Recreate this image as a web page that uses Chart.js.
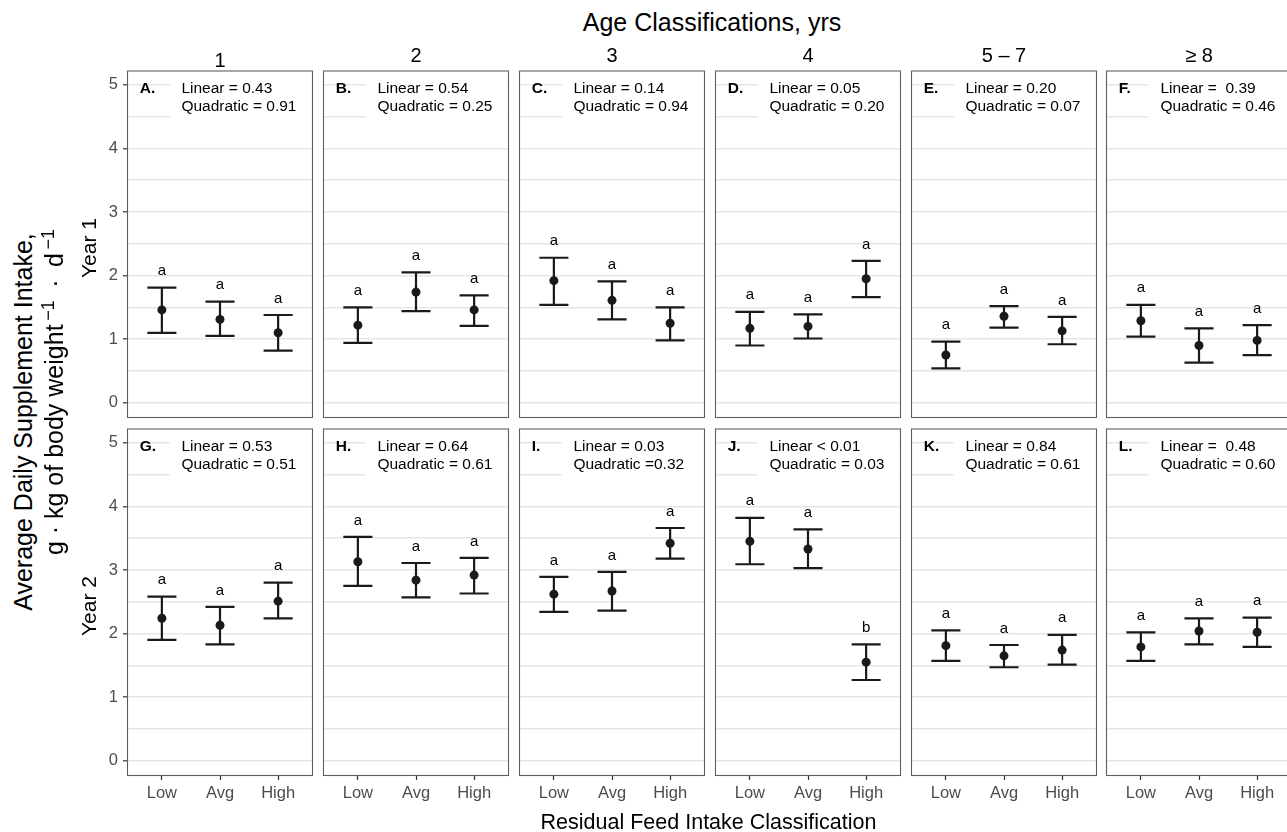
<!DOCTYPE html>
<html>
<head>
<meta charset="utf-8">
<script src="https://cdn.jsdelivr.net/npm/chart.js@4.4.1/dist/chart.umd.min.js"></script>
<style>
body { margin:0; width:1287px; height:832px; overflow:hidden; background:#fff; position:relative; font-family:'Liberation Sans', Arial, sans-serif; }
canvas { position:absolute; }
.txt { position:absolute; white-space:nowrap; line-height:1; color:#000; transform:translate(-50%,-50%); }
.rot { transform:translate(-50%,-50%) rotate(-90deg); }
sup { font-size:72%; vertical-align:0.5em; line-height:0; }
</style>
</head>
<body>
<script>
/* Facet labels */
const ageLabels = ['1', '2', '3', '4', '5 \u2013 7', '\u2265 8'];
const rfiLabels = ['Low', 'Avg', 'High'];
const yearLabels = ['Year 1', 'Year 2'];
const yGridValues = [0, 0.5, 1, 1.5, 2, 2.5, 3, 3.5, 4, 4.5, 5];

/* Panel annotations */
const panelTags = [['A.', 'B.', 'C.', 'D.', 'E.', 'F.'], ['G.', 'H.', 'I.', 'J.', 'K.', 'L.']];
const linearText = [
	['Linear = 0.43', 'Linear = 0.54', 'Linear = 0.14', 'Linear = 0.05', 'Linear = 0.20', 'Linear =  0.39'],
	['Linear = 0.53', 'Linear = 0.64', 'Linear = 0.03', 'Linear < 0.01', 'Linear = 0.84', 'Linear =  0.48']
];
const quadText = [
	['Quadratic = 0.91', 'Quadratic = 0.25', 'Quadratic = 0.94', 'Quadratic = 0.20', 'Quadratic = 0.07', 'Quadratic = 0.46'],
	['Quadratic = 0.51', 'Quadratic = 0.61', 'Quadratic =0.32', 'Quadratic = 0.03', 'Quadratic = 0.61', 'Quadratic = 0.60']
];

/* Year 1 means and error bar limits (Low, Avg, High per age class) */
const year1Mean = [[1.46, 1.31, 1.10], [1.22, 1.74, 1.46], [1.92, 1.61, 1.25], [1.17, 1.20, 1.95], [0.75, 1.36, 1.13], [1.29, 0.90, 0.98]];
const year1Upper = [[1.81, 1.59, 1.38], [1.50, 2.05, 1.69], [2.28, 1.91, 1.50], [1.43, 1.39, 2.23], [0.96, 1.52, 1.35], [1.54, 1.17, 1.22]];
const year1Lower = [[1.10, 1.05, 0.82], [0.94, 1.44, 1.21], [1.54, 1.31, 0.98], [0.90, 1.01, 1.66], [0.54, 1.18, 0.92], [1.04, 0.63, 0.75]];
const year1Letters = [['a', 'a', 'a'], ['a', 'a', 'a'], ['a', 'a', 'a'], ['a', 'a', 'a'], ['a', 'a', 'a'], ['a', 'a', 'a']];

/* Year 2 */
const year2Mean = [[2.24, 2.13, 2.51], [3.13, 2.84, 2.92], [2.62, 2.67, 3.42], [3.45, 3.33, 1.55], [1.81, 1.65, 1.74], [1.79, 2.04, 2.02]];
const year2Upper = [[2.58, 2.42, 2.80], [3.52, 3.11, 3.19], [2.89, 2.97, 3.66], [3.82, 3.64, 1.83], [2.05, 1.82, 1.98], [2.02, 2.24, 2.25]];
const year2Lower = [[1.90, 1.83, 2.24], [2.75, 2.57, 2.63], [2.34, 2.36, 3.18], [3.09, 3.03, 1.27], [1.57, 1.47, 1.51], [1.57, 1.83, 1.79]];
const year2Letters = [['a', 'a', 'a'], ['a', 'a', 'a'], ['a', 'a', 'a'], ['a', 'a', 'b'], ['a', 'a', 'a'], ['a', 'a', 'a']];

/* Layout */
const panelLeft0 = 127.3, colStep = 195.8, panelW = 186;
const rowTop0 = 70, rowStep = 358.3, panelH = 348;
const axisW = 45, axisH = 40, padTop = 4, padRight = 6;
const fontFam = "'Liberation Sans', Arial, sans-serif";

Chart.defaults.font.family = fontFam;

const panelDecor = {
	id: 'panelDecor',
	beforeDatasetsDraw(chart, args, opts) {
		const ctx = chart.ctx;
		const a = chart.chartArea;
		const x = chart.scales.x, y = chart.scales.y;
		ctx.save();
		// white box behind the p-value text
		ctx.fillStyle = '#fff';
		ctx.fillRect(a.left + 42.7, a.top, a.right - a.left - 44.5, 51);
		// panel border
		ctx.strokeStyle = '#5e5e5e';
		ctx.lineWidth = 1.1;
		ctx.strokeRect(a.left + 0.5, a.top + 0.5, a.right - a.left - 1, a.bottom - a.top - 1);
		// error bars
		ctx.strokeStyle = '#1a1a1a';
		ctx.lineWidth = 2.2;
		for (var i = 0; i < opts.upper.length; i++) {
			var cx = x.getPixelForValue(i + 1);
			var x0 = x.getPixelForValue(i + 1 - 0.25);
			var x1 = x.getPixelForValue(i + 1 + 0.25);
			var yu = y.getPixelForValue(opts.upper[i]);
			var yl = y.getPixelForValue(opts.lower[i]);
			ctx.beginPath();
			ctx.moveTo(cx, yu); ctx.lineTo(cx, yl);
			ctx.moveTo(x0, yu); ctx.lineTo(x1, yu);
			ctx.moveTo(x0, yl); ctx.lineTo(x1, yl);
			ctx.stroke();
		}
		ctx.restore();
	},
	afterDatasetsDraw(chart, args, opts) {
		const ctx = chart.ctx;
		const a = chart.chartArea;
		const x = chart.scales.x, y = chart.scales.y;
		ctx.save();
		ctx.fillStyle = '#000';
		ctx.textBaseline = 'middle';
		ctx.textAlign = 'left';
		ctx.font = 'bold 15.5px ' + fontFam;
		ctx.fillText(opts.tag, a.left + 12.7, a.top + 18);
		ctx.font = '15.5px ' + fontFam;
		ctx.fillText(opts.lin, a.left + 54.4, a.top + 18);
		ctx.fillText(opts.quad, a.left + 54.4, a.top + 36.7);
		ctx.font = '15px ' + fontFam;
		ctx.textAlign = 'center';
		for (var i = 0; i < opts.letters.length; i++) {
			ctx.fillText(opts.letters[i], x.getPixelForValue(i + 1), y.getPixelForValue(opts.upper[i]) - 16.5);
		}
		ctx.restore();
	}
};
Chart.register(panelDecor);

function addText(html, cx, cy, size, rotate) {
	var d = document.createElement('div');
	d.className = rotate ? 'txt rot' : 'txt';
	d.innerHTML = html;
	d.style.left = cx + 'px';
	d.style.top = cy + 'px';
	d.style.fontSize = size + 'px';
	document.body.appendChild(d);
}

function noPadding(s) {
	s.paddingTop = 0;
	s.paddingBottom = 0;
	s.paddingLeft = 0;
	s.paddingRight = 0;
}

function makePanel(row, col) {
	var isLeft = col == 0;
	var isBottom = row == 1;
	var canvas = document.createElement('canvas');
	var left = Math.round(panelLeft0 + col * colStep) - axisW;
	var top = Math.round(rowTop0 + row * rowStep) - padTop;
	canvas.width = panelW + axisW + padRight;
	canvas.height = panelH + padTop + axisH;
	canvas.style.left = left + 'px';
	canvas.style.top = top + 'px';
	document.body.appendChild(canvas);

	var means = row == 0 ? year1Mean[col] : year2Mean[col];
	var upper = row == 0 ? year1Upper[col] : year2Upper[col];
	var lower = row == 0 ? year1Lower[col] : year2Lower[col];
	var letters = row == 0 ? year1Letters[col] : year2Letters[col];

	new Chart(canvas, {
		type: 'scatter',
		data: {
			datasets: [{
				data: means.map(function (m, i) { return { x: i + 1, y: m }; }),
				pointRadius: 4.5,
				pointBackgroundColor: '#1a1a1a',
				pointBorderWidth: 0,
				showLine: false
			}]
		},
		options: {
			responsive: false,
			animation: false,
			events: [],
			layout: { padding: { top: padTop, right: padRight, left: 0, bottom: 0 } },
			plugins: {
				legend: { display: false },
				tooltip: { enabled: false },
				panelDecor: {
					tag: panelTags[row][col],
					lin: linearText[row][col],
					quad: quadText[row][col],
					upper: upper,
					lower: lower,
					letters: letters
				}
			},
			scales: {
				x: {
					type: 'linear',
					min: 0.4,
					max: 3.6,
					afterBuildTicks: function (s) { s.ticks = [1, 2, 3].map(function (v) { return { value: v }; }); },
					afterFit: function (s) { s.height = axisH; noPadding(s); },
					border: { display: false },
					grid: { drawOnChartArea: false, drawTicks: isBottom, tickLength: 4, tickColor: '#333', tickWidth: 1.2 },
					ticks: {
						display: isBottom,
						autoSkip: false,
						maxRotation: 0,
						padding: 4,
						color: '#4d4d4d',
						font: { size: 16.5 },
						callback: function (v) { return rfiLabels[Math.round(v) - 1]; }
					}
				},
				y: {
					type: 'linear',
					min: -0.24,
					max: 5.225,
					afterBuildTicks: function (s) { s.ticks = yGridValues.map(function (v) { return { value: v }; }); },
					afterFit: function (s) { s.width = axisW; noPadding(s); },
					border: { display: false },
					grid: {
						color: '#e6e6e6',
						lineWidth: 1.6,
						drawTicks: isLeft,
						tickLength: 4,
						tickWidth: 1.2,
						tickColor: function (c) { return c.tick && c.tick.value % 1 === 0 ? '#333' : 'rgba(0,0,0,0)'; }
					},
					ticks: {
						display: isLeft,
						autoSkip: false,
						padding: 5,
						color: '#4d4d4d',
						font: { size: 16.5 },
						callback: function (v) { return v % 1 === 0 ? String(v) : ''; }
					}
				}
			}
		}
	});
}

for (var r = 0; r < 2; r++) {
	for (var c = 0; c < 6; c++) {
		makePanel(r, c);
	}
}

/* Titles and strip labels */
addText('Age Classifications, yrs', 712, 22, 25);
for (var c = 0; c < ageLabels.length; c++) {
	var cx = Math.round(panelLeft0 + c * colStep) + panelW / 2;
	addText(ageLabels[c], cx, c == 0 ? 59.5 : 54.5, 20);
}
addText(yearLabels[0], 88, Math.round(rowTop0) + panelH / 2 + 4, 21, true);
addText(yearLabels[1], 88, Math.round(rowTop0 + rowStep) + panelH / 2 + 4, 21, true);
addText('Average Daily Supplement Intake,', 23, 422, 25, true);
addText('g \u00b7 kg of body weight<sup>&thinsp;\u22121</sup>&ensp;\u00b7&ensp;d<sup>&thinsp;\u22121</sup>', 54, 392, 25, true);
addText('Residual Feed Intake Classification', 708.5, 822.5, 21.5);
</script>
</body>
</html>
